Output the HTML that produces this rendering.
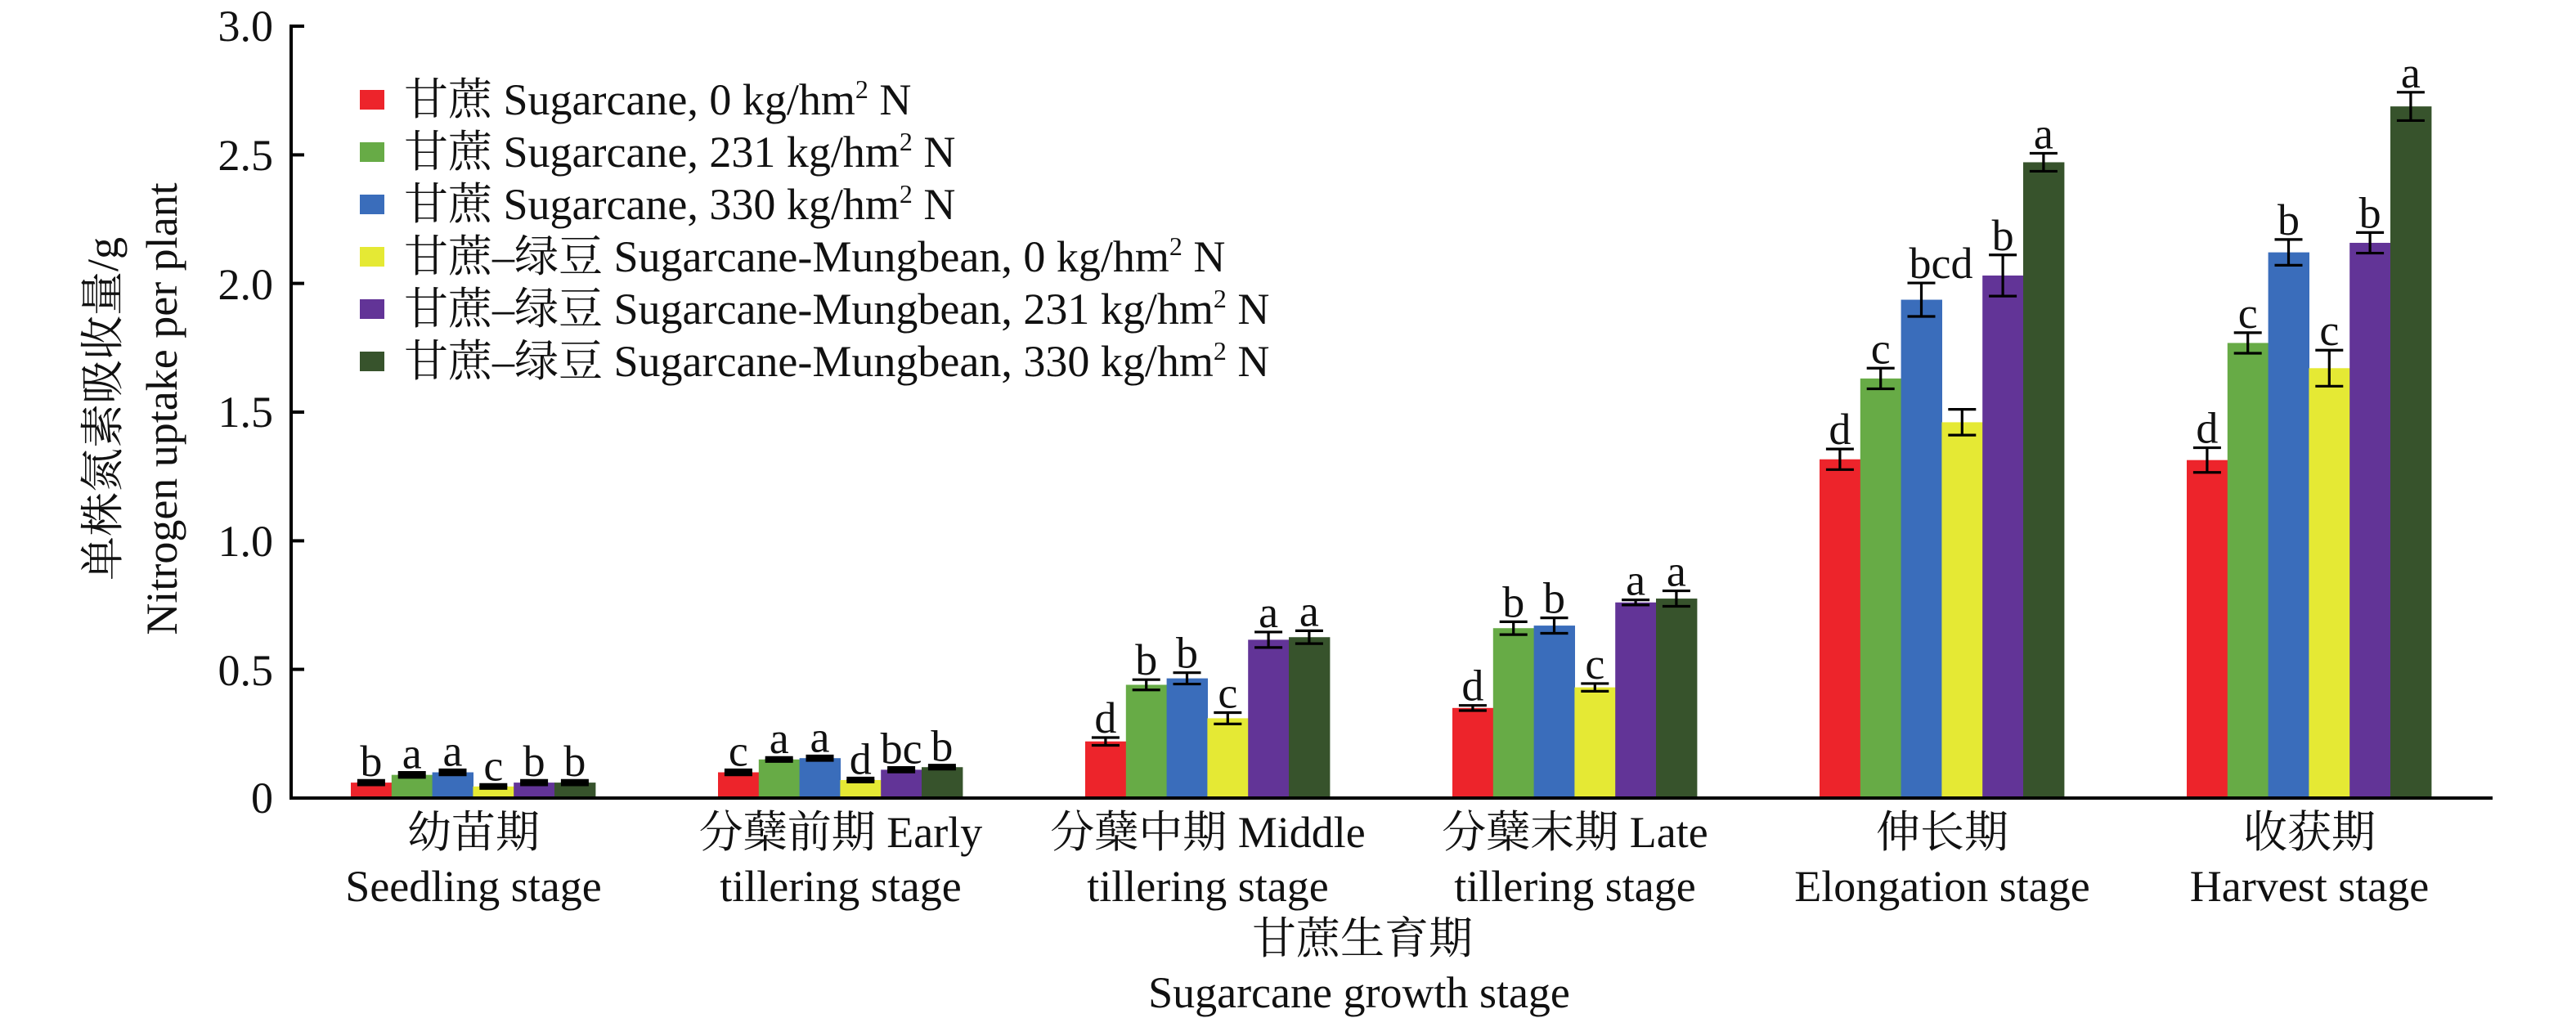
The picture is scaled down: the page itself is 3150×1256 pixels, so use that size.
<!DOCTYPE html>
<html><head><meta charset="utf-8"><style>
html,body{margin:0;padding:0;background:#fff;}
svg{display:block;}
.s,svg text{font-family:"Liberation Serif","Times New Roman",Times,"Noto Serif CJK SC","DejaVu Serif",serif;fill:#111;}
</style></head><body>
<svg width="3150" height="1256" viewBox="0 0 1575 628" xmlns="http://www.w3.org/2000/svg">
<g id="bars"></g>
<line x1="178" y1="15" x2="178" y2="488.5" stroke="#000" stroke-width="2"/>
<line x1="177" y1="488" x2="1524" y2="488" stroke="#000" stroke-width="2"/>
<g stroke="#000" stroke-width="2">
<line x1="178" y1="16" x2="186" y2="16"/>
<line x1="178" y1="94.7" x2="186" y2="94.7"/>
<line x1="178" y1="173.3" x2="186" y2="173.3"/>
<line x1="178" y1="252" x2="186" y2="252"/>
<line x1="178" y1="330.7" x2="186" y2="330.7"/>
<line x1="178" y1="409.3" x2="186" y2="409.3"/>
</g>
<g class="s" font-size="27" text-anchor="end">
<text x="167" y="25">3.0</text>
<text x="167" y="104">2.5</text>
<text x="167" y="183">2.0</text>
<text x="167" y="261">1.5</text>
<text x="167" y="340">1.0</text>
<text x="167" y="419">0.5</text>
<text x="167" y="497">0</text>
</g>
<g class="s" font-size="27" text-anchor="middle">
<text transform="translate(72,250) rotate(-90)">单株氮素吸收量/g</text>
<text transform="translate(108,250) rotate(-90)">Nitrogen uptake per  plant</text>
</g>
<g class="s" font-size="27">
<rect x="220" y="55" width="15" height="12" fill="#ed242b"/><text x="247" y="70">甘蔗 Sugarcane, 0 kg/hm<tspan font-size="16" dy="-10">2</tspan><tspan dy="10"> N</tspan></text>
<rect x="220" y="87" width="15" height="12" fill="#67ab46"/><text x="247" y="102">甘蔗 Sugarcane, 231 kg/hm<tspan font-size="16" dy="-10">2</tspan><tspan dy="10"> N</tspan></text>
<rect x="220" y="119" width="15" height="12" fill="#3a6dbb"/><text x="247" y="134">甘蔗 Sugarcane, 330 kg/hm<tspan font-size="16" dy="-10">2</tspan><tspan dy="10"> N</tspan></text>
<rect x="220" y="151" width="15" height="12" fill="#e5e934"/><text x="247" y="166">甘蔗–绿豆 Sugarcane-Mungbean, 0 kg/hm<tspan font-size="16" dy="-10">2</tspan><tspan dy="10"> N</tspan></text>
<rect x="220" y="183" width="15" height="12" fill="#623497"/><text x="247" y="198">甘蔗–绿豆 Sugarcane-Mungbean, 231 kg/hm<tspan font-size="16" dy="-10">2</tspan><tspan dy="10"> N</tspan></text>
<rect x="220" y="215" width="15" height="12" fill="#37532c"/><text x="247" y="230">甘蔗–绿豆 Sugarcane-Mungbean, 330 kg/hm<tspan font-size="16" dy="-10">2</tspan><tspan dy="10"> N</tspan></text>
</g>
<g class="s" font-size="27" text-anchor="middle">
<text x="289.5" y="518">幼苗期</text><text x="289.5" y="551">Seedling stage</text>
<text x="514" y="518">分蘖前期 Early</text><text x="514" y="551">tillering stage</text>
<text x="738.5" y="518">分蘖中期 Middle</text><text x="738.5" y="551">tillering stage</text>
<text x="963" y="518">分蘖末期 Late</text><text x="963" y="551">tillering stage</text>
<text x="1187.5" y="518">伸长期</text><text x="1187.5" y="551">Elongation stage</text>
<text x="1412" y="518">收获期</text><text x="1412" y="551">Harvest stage</text>
<text x="833" y="583">甘蔗生育期</text>
<text x="831" y="616">Sugarcane growth stage</text>
</g>
<script>
(function(){
var cols=["#ed242b","#67ab46","#3a6dbb","#e5e934","#623497","#37532c"];
var data=[
 [[0.06,0.006,"b"],[0.09,0.007,"a"],[0.10,0.007,"a"],[0.045,0.005,"c"],[0.06,0.006,"b"],[0.06,0.006,"b"]],
 [[0.10,0.007,"c"],[0.15,0.005,"a"],[0.155,0.006,"a"],[0.07,0.005,"d"],[0.11,0.006,"bc"],[0.12,0.005,"b"]],
 [[0.22,0.015,"d"],[0.44,0.02,"b"],[0.465,0.022,"b"],[0.31,0.022,"c"],[0.615,0.03,"a"],[0.625,0.025,"a"]],
 [[0.35,0.01,"d"],[0.66,0.025,"b"],[0.67,0.03,"b"],[0.43,0.015,"c"],[0.76,0.01,"a"],[0.775,0.03,"a"]],
 [[1.316,0.04,"d"],[1.63,0.04,"c"],[1.936,0.065,"bcd"],[1.46,0.05,""],[2.03,0.08,"b"],[2.47,0.035,"a"]],
 [[1.313,0.048,"d"],[1.768,0.04,"c"],[2.12,0.05,"b"],[1.67,0.07,"c"],[2.157,0.04,"b"],[2.687,0.055,"a"]]
];
var g=document.getElementById("bars"),ns="http://www.w3.org/2000/svg";
function el(t,a){var e=document.createElementNS(ns,t);for(var k in a)e.setAttribute(k,a[k]);g.appendChild(e);return e;}
var y0=488,u=157.4,w=24.9;
for(var i=0;i<6;i++){var x0=214.5+224.5*i;
 for(var j=0;j<6;j++){var d=data[i][j],x=x0+j*w,yt=y0-d[0]*u;
  el("rect",{x:x,y:yt,width:w+0.3,height:y0-yt,fill:cols[j]});
  var cx=x+w/2,eh=d[1]*u,top=yt-eh,bot=yt+eh;
  var sw=(d[1]<0.01)?2.5:1.6;
  el("line",{x1:cx,y1:top,x2:cx,y2:bot,stroke:"#000","stroke-width":1.6});
  el("line",{x1:cx-8.5,y1:top,x2:cx+8.5,y2:top,stroke:"#000","stroke-width":sw});
  el("line",{x1:cx-8.5,y1:bot,x2:cx+8.5,y2:bot,stroke:"#000","stroke-width":sw});
  if(d[2]){var t=el("text",{x:cx+(d[2]=="bcd"?12:0),y:top-3,"font-size":27,"text-anchor":"middle","class":"s"});t.textContent=d[2];}
 }}
})();
</script>
</svg>
</body></html>
